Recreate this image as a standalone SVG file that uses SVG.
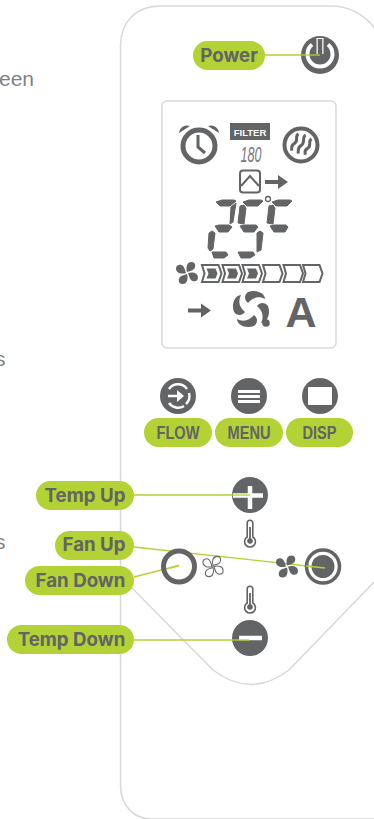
<svg xmlns="http://www.w3.org/2000/svg" xmlns:xlink="http://www.w3.org/1999/xlink" width="374" height="819" viewBox="0 0 374 819">
<style>
.o{fill:none;stroke:#d9d9d9;stroke-width:1.5}
.p{fill:#b2d235}
.t{font-family:Inter,"Liberation Sans",sans-serif;font-weight:700;font-size:18.700px;fill:#636466;text-anchor:middle}
.n{font-family:"Liberation Sans",sans-serif;font-weight:700;font-size:18px;fill:#636466;text-anchor:middle}
.d{fill:#636466}
.s{fill:none;stroke:#636466}
.w{fill:none;stroke:#fff}
.l{fill:none;stroke:#b2d235;stroke-width:1.3}
.g{font-family:"Liberation Sans",sans-serif;font-size:21px;fill:#808285}
</style>
<defs>
<path id="blade" d="M0 -1C-1.500 -6 0 -11 4.500 -11C9 -11 9 -6 7 -4C5 -2 2 -2 0 -1Z"/>
<g id="fan"><use href="#blade"/><use href="#blade" transform="rotate(90)"/><use href="#blade" transform="rotate(180)"/><use href="#blade" transform="rotate(270)"/></g>
<g id="therm"><path d="M-2.800 -11a2.800 2.800 0 0 1 5.600 0V3a5.400 5.400 0 1 1 -5.600 0Z" fill="#fff" stroke="#636466" stroke-width="1.600"/><circle cy="7" r="2.800" class="d"/><rect x="-.9" y="-7" width="1.800" height="12" class="d"/></g>
<path id="chev" d="M0 0H16.500L19.500 8.500L16.500 17H0L2.500 8.500Z" fill="#fff" stroke="#636466" stroke-width="2"/>
<path id="chevi" d="M4.500 3.500H13.500L15.500 8.500L13.500 13.500H4.500L6.500 8.500Z" class="d"/>
<path id="arrow" d="M0 -2H13V-7L23 0L13 7V2H0Z" class="d"/>
</defs>

<g id="background-text">
<text class="g" x="-1" y="85.500">een</text>
<text class="g" x="-5" y="366">s</text>
<text class="g" x="-5" y="549">s</text>
</g>

<g id="remote">
<path class="o" d="M380 36C368 16 352 6 330 6H160C136 6 120.500 22 120.500 46V785C120.500 806 134 819 152 819H380"/>
<path class="o" d="M132 588L213 670C238 689 264 689 289 670L380 576"/>
<rect class="o" x="162" y="101" width="174" height="247" rx="5"/>
</g>

<g id="display">
<g id="clock">
<circle class="s" cx="199" cy="146" r="16" stroke-width="5"/>
<path class="s" d="M198 135V147L205 153" stroke-width="3"/>
<path class="d" d="M179 133a8 8 0 0 1 11 -7ZM219 133a8 8 0 0 0 -11 -7Z"/>
</g>
<g id="filter">
<rect class="d" x="230" y="123" width="40" height="17"/>
<text x="250" y="135.500" text-anchor="middle" font-family="'Liberation Sans',sans-serif" font-weight="700" font-size="9.500" fill="#fff">FILTER</text>
<text x="251" y="162" text-anchor="middle" font-family="'Liberation Sans',sans-serif" font-style="italic" font-size="22" fill="#77787a" textLength="21" lengthAdjust="spacingAndGlyphs">180</text>
</g>
<g id="heat">
<circle class="s" cx="301" cy="145" r="16.500" stroke-width="4"/>
<path class="s" stroke-width="3" transform="rotate(25 301 145)" d="M294 136c-3 4 4 6 0 11c-2 3 0 5 1 7M301 134c-3 4 4 7 0 12c-2 3 0 5 1 8M308 135c-3 4 4 6 0 11c-2 3 0 4 1 6"/>
</g>
<g id="flow-mode">
<rect class="s" x="240" y="170.500" width="20" height="22" rx="3" stroke-width="2"/>
<path class="s" d="M241 186L250 176L259 186" stroke-width="2"/>
<use href="#arrow" x="265" y="182"/>
</g>
<g id="digits" class="d" stroke="#636466" stroke-width="1" stroke-linejoin="round">
<path d="M216 202L222 200H234L236 201L230 206H220Z"/>
<path d="M231 207L236 203L233 222L230 224Z"/>
<path d="M215 226L219 225H229L232 227L228 232H219Z"/>
<path d="M208 248L209 233L212 231L215 233L213 249L210 251Z"/>
<path d="M212 252H226L228 255L224 258H214Z"/>
<path d="M243 202L249 200H261L263 201L258 206H247Z"/>
<path d="M238 223L240 206L244 205L246 208L244 224Z"/>
<path d="M240 226L244 225H256L258 227L254 232H244Z"/>
<path d="M257 233L260 231L263 233L261 250L257 252Z"/>
<path d="M238 252L240 252H253L255 255L250 258H241Z"/>
<path d="M272 202L278 200H290L292 201L287 206H276Z"/>
<path d="M267 223L269 206L273 205L275 208L273 224Z"/>
<path d="M270 226L274 225H286L288 227L285 232H274Z"/>
</g>
<circle class="s" cx="268" cy="199" r="2.500" stroke-width="1.300"/>
<use href="#fan" class="d" transform="translate(187 273)"/>
<g id="bars">
<use href="#chev" x="202" y="265"/><use href="#chev" x="222.500" y="265"/><use href="#chev" x="242.500" y="265"/><use href="#chev" x="263" y="265"/><use href="#chev" x="283.500" y="265"/><use href="#chev" x="303" y="265"/>
<use href="#chevi" x="202" y="265"/><use href="#chevi" x="222.500" y="265"/><use href="#chevi" x="242.500" y="265"/>
</g>
<use href="#arrow" x="188" y="310.500"/>
<g id="swirl" class="d">
<path id="sw" d="M248 292C256 289 265 293 265 299C259 296 253 297 248 303C244 300 244 295 248 292Z"/>
<use href="#sw" transform="rotate(90 251 309)"/>
<use href="#sw" transform="rotate(180 251 309)"/>
<use href="#sw" transform="rotate(270 251 309)"/>
<circle cx="266" cy="323" r="3.800"/>
</g>
<text x="301" y="326.500" text-anchor="middle" font-family="'Liberation Sans',sans-serif" font-weight="700" font-size="43" fill="#636466">A</text>
</g>

<g id="connectors">
<path class="l" d="M265 55H320"/>
<path class="l" d="M134 495H250"/>
<path class="l" d="M134 547L325 568"/>
<path class="l" d="M134 577L179 565.500"/>
<path class="l" d="M134 640H249"/>
</g>

<g id="power-button">
<circle class="d" cx="320" cy="55" r="19"/>
<path class="w" stroke-width="4" d="M312 44.500A12.500 12.500 0 1 0 328 44.500"/>
<path d="M320 38V54" stroke="#fff" stroke-width="7" fill="none"/>
<path d="M320 39V55" stroke="#636466" stroke-width="4.500" fill="none"/>
<path class="l" d="M300 55H320"/>
</g>
<g id="power"><rect class="p" x="193" y="41" width="72" height="29" rx="14.500"/><text class="t" x="229" y="61.500">Power</text></g>

<g id="flow"><circle class="d" cx="178" cy="396" r="18"/>
<path class="w" stroke-width="2.500" d="M169 389A11 11 0 0 1 187 389M189 393A11 11 0 0 1 186 404M169 403A11 11 0 0 0 184 406M168 396H177"/>
<path d="M177 390L184 396L177 402Z" fill="#fff"/>
<rect class="p" x="144" y="418" width="68" height="29" rx="14.500"/><text class="n" x="178" y="439" textLength="43" lengthAdjust="spacingAndGlyphs">FLOW</text></g>
<g id="menu"><circle class="d" cx="249" cy="396" r="18"/>
<path class="w" stroke-width="3" d="M238 391.500H260M238 396.500H260M238 401.500H260"/>
<rect class="p" x="215" y="418" width="68" height="29" rx="14.500"/><text class="n" x="249" y="439" textLength="43" lengthAdjust="spacingAndGlyphs">MENU</text></g>
<g id="disp"><circle class="d" cx="320" cy="396" r="18"/>
<rect x="308" y="387" width="24" height="18" rx="1" fill="#fff"/>
<rect class="p" x="286" y="418" width="67" height="29" rx="14.500"/><text class="n" x="319.500" y="439" textLength="34" lengthAdjust="spacingAndGlyphs">DISP</text></g>

<g id="temp-up-button"><circle class="d" cx="250" cy="495" r="18"/><path class="w" stroke-width="4.500" d="M233 495.500H263M250 486V509"/></g>
<g id="temp-up"><rect class="p" x="36" y="481" width="98" height="29" rx="14.500"/><text class="t" x="85" y="501.500">Temp Up</text></g>
<use href="#therm" x="250" y="534"/>
<use href="#therm" x="250" y="600"/>
<g id="fan-down-button"><circle class="s" cx="179" cy="566.500" r="15.500" stroke-width="5"/><path class="l" d="M170 568L179 565.500"/><use href="#fan" transform="translate(213 566.500) scale(.92)" fill="#fff" stroke="#636466" stroke-width="1.100"/></g>
<g id="fan-up-button"><use href="#fan" class="d" transform="translate(287 566.500)"/><circle class="s" cx="323" cy="566.500" r="16.500" stroke-width="3.500"/><circle class="d" cx="323" cy="566.500" r="11.500"/></g>
<g id="fan-up"><rect class="p" x="55" y="531" width="79" height="29" rx="14.500"/><text class="t" x="94" y="551">Fan Up</text></g>
<g id="fan-down"><rect class="p" x="25" y="566" width="109" height="29" rx="14.500"/><text class="t" x="80.500" y="586.500">Fan Down</text></g>
<g id="temp-down-button"><circle class="d" cx="250" cy="638" r="18"/><path class="w" stroke-width="4.500" d="M239 638H262"/></g>
<g id="temp-down"><rect class="p" x="7" y="625" width="127" height="29" rx="14.500"/><text class="t" x="71.500" y="645.500">Temp Down</text></g>
<g id="leader-overlays">
<path class="l" d="M232 495H250"/>
<path class="l" d="M232 640H249"/>
<path class="l" d="M306 566L325 568"/>
</g>
</svg>
